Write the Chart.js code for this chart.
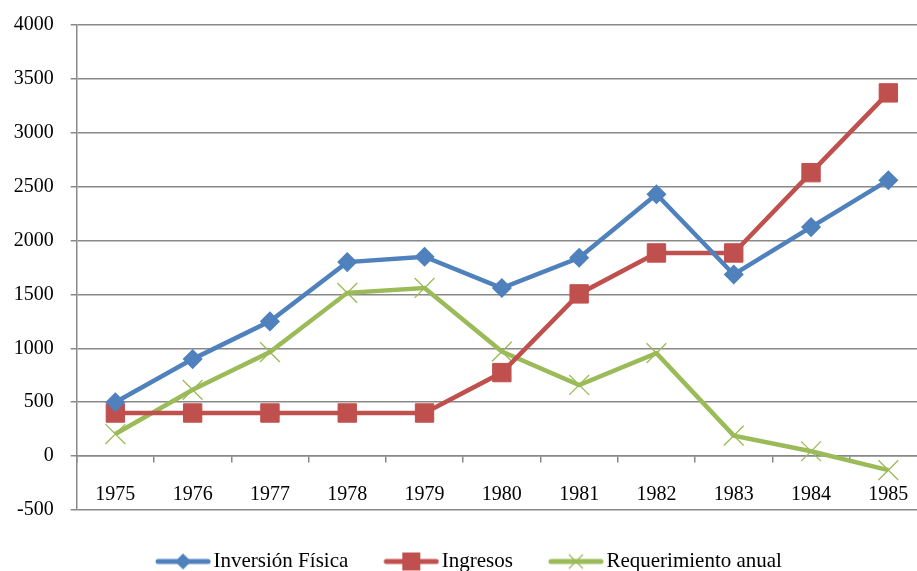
<!DOCTYPE html>
<html>
<head>
<meta charset="utf-8">
<script src="https://cdn.jsdelivr.net/npm/chart.js@4/dist/chart.umd.min.js"></script>
<style>
  body { margin: 0; overflow: hidden; background: #fff; }
</style>
</head>
<body>
<canvas id="chart" width="927" height="571"></canvas>
<script>
// values
var years = ['1975', '1976', '1977', '1978', '1979', '1980', '1981', '1982', '1983', '1984', '1985'];
var inversionFisica = [500, 900, 1250, 1800, 1850, 1560, 1840, 2430, 1685, 2125, 2560];
var ingresos = [400, 400, 400, 400, 400, 775, 1505, 1885, 1885, 2630, 3370];
var requerimientoAnual = [205, 615, 965, 1515, 1560, 970, 660, 955, 190, 45, -130];

var BLUE = '#4F81BD', RED = '#C0504D', GREEN = '#9BBB59', GRID = '#888888';
var FONT = "'Liberation Serif', 'Times New Roman', serif";

// legend swatch: short line with the marker in the middle (16px blank on the left)
function swatch(color, kind) {
	var c = document.createElement('canvas');
	c.width = 72; c.height = 20;
	var g = c.getContext('2d');
	g.strokeStyle = color; g.lineWidth = 5; g.lineCap = 'round';
	g.beginPath(); g.moveTo(19, 10); g.lineTo(69, 10); g.stroke();
	g.fillStyle = color;
	var cx = 44;
	if (kind === 'diamond') {
		g.beginPath(); g.moveTo(cx, 2); g.lineTo(cx + 8, 10); g.lineTo(cx, 18); g.lineTo(cx - 8, 10); g.closePath(); g.fill();
	} else if (kind === 'square') {
		g.fillRect(cx - 9, 1, 18, 18);
	} else {
		g.lineWidth = 1.3; g.lineCap = 'butt';
		g.beginPath(); g.moveTo(cx - 7, 3); g.lineTo(cx + 7, 17); g.moveTo(cx + 7, 3); g.lineTo(cx - 7, 17); g.stroke();
	}
	return c;
}

var swatches = [swatch(BLUE, 'diamond'), swatch(RED, 'square'), swatch(GREEN, 'x')];

// nudge the legend to where the original has it
var legendShift = {
	id: 'legendShift',
	afterLayout: function (chart) {
		var lg = chart.legend;
		var dx = 1, dy = 14;
		lg.left += dx; lg.right += dx;
		lg.top += dy; lg.bottom += dy;
	}
};

var data = {
	labels: years,
	datasets: [
		{ label: 'Inversión Física', data: inversionFisica, borderColor: BLUE, backgroundColor: BLUE, borderWidth: 4.5,
		  pointStyle: 'rectRot', pointRadius: 9, pointBorderWidth: 1.5, pointBackgroundColor: BLUE, pointBorderColor: BLUE, order: 1 },
		{ label: 'Ingresos', data: ingresos, borderColor: RED, backgroundColor: RED, borderWidth: 4.5,
		  pointStyle: 'rect', pointRadius: 13, pointBorderWidth: 1, pointBackgroundColor: RED, pointBorderColor: RED, order: 2 },
		{ label: 'Requerimiento anual', data: requerimientoAnual, borderColor: GREEN, backgroundColor: GREEN, borderWidth: 4.5,
		  pointStyle: 'crossRot', pointRadius: 14, pointBorderWidth: 1.3, pointBackgroundColor: GREEN, pointBorderColor: GREEN, order: 3 }
	]
};

var options = {
	responsive: false,
	animation: false,
	layout: { autoPadding: false, padding: { left: 0, right: 0, top: 25, bottom: 3 } },
	scales: {
		x: {
			type: 'category',
			offset: true,
			position: { y: 0 },
			afterFit: function (scale) { scale.paddingLeft = 0; scale.paddingRight = 0; },
			grid: { display: true, drawOnChartArea: false, offset: true, tickLength: 6, color: GRID, lineWidth: 1.5 },
			border: { display: true, color: GRID, width: 1.5 },
			ticks: { color: '#000', font: { family: FONT, size: 20 }, padding: 21, maxRotation: 0, autoSkip: false }
		},
		y: {
			min: -500,
			max: 4000,
			afterFit: function (scale) { scale.width = 76.7; scale.paddingTop = 0; scale.paddingBottom = 0; },
			grid: { color: GRID, lineWidth: 1.5, tickLength: 6 },
			border: { display: true, color: GRID, width: 1.5 },
			ticks: { stepSize: 500, color: '#000', font: { family: FONT, size: 20 }, padding: 17, callback: function (value) { return String(value); } }
		}
	},
	plugins: {
		tooltip: { enabled: false },
		legend: {
			position: 'bottom',
			labels: {
				color: '#000', font: { family: FONT, size: 21 }, usePointStyle: true, pointStyleWidth: 56, padding: 27,
				generateLabels: function (chart) {
					return chart.data.datasets.map(function (ds, i) {
						return { text: ds.label, pointStyle: swatches[i], fillStyle: ds.borderColor, strokeStyle: ds.borderColor, lineWidth: 0, datasetIndex: i, fontColor: '#000' };
					});
				}
			}
		}
	}
};

var ctx = document.getElementById('chart').getContext('2d');
var myLineChart = new Chart(ctx, { type: 'line', data: data, options: options, plugins: [legendShift] });
</script>
</body>
</html>
